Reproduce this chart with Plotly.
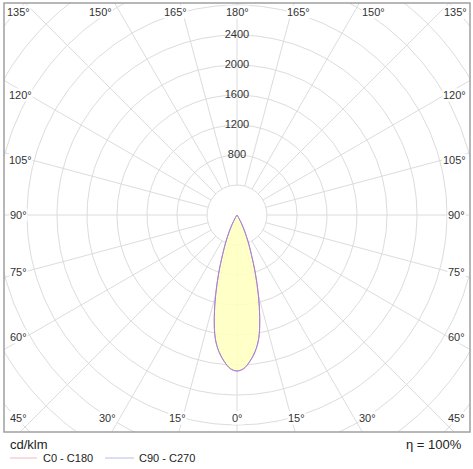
import numpy as np
import plotly.graph_objects as go

# luminous intensity distribution, cd/klm (gamma angle from nadir)
gamma = [0, 2.5, 5, 7.5, 10, 12.5, 15, 17.5, 20, 22.5, 25, 27.5, 30, 32.5, 35, 40, 45, 90]
c0_c180 = [2080, 2050, 1960, 1840, 1670, 1400, 1100, 810, 560, 390, 250, 140, 60, 25, 10, 0, 0, 0]
c90_c270 = [2080, 2050, 1960, 1840, 1670, 1400, 1100, 810, 560, 390, 250, 140, 60, 25, 10, 0, 0, 0]

ring_values = [400, 800, 1200, 1600, 2000, 2400, 2800, 3200, 3600, 4000, 4400]
ring_labels = [800, 1200, 1600, 2000, 2400]
spoke_angles = list(range(0, 360, 15))

W, H = 473, 469
PX = 0.075  # px per cd/klm
cx, cy = 237, 215
FONT = "Arial, Liberation Sans, sans-serif"


def xy(r, g):
    g = np.radians(g)
    return np.asarray(r) * np.sin(g), -np.asarray(r) * np.cos(g)


fig = go.Figure()
grid = dict(color="#dcdcdc", width=1)
t = np.linspace(0, 360, 361)
for rv in ring_values:
    x, y = xy(rv, t)
    fig.add_trace(go.Scatter(x=x, y=y, mode="lines", line=grid, hoverinfo="skip", showlegend=False))
for a in spoke_angles:
    x, y = xy([ring_values[0], ring_values[-1]], [a, a])
    fig.add_trace(go.Scatter(x=x, y=y, mode="lines", line=grid, hoverinfo="skip", showlegend=False))


def full(vals):
    g = [-v for v in gamma[::-1]] + gamma[1:]
    r = vals[::-1] + vals[1:]
    return xy(r, g)

x, y = full(c0_c180)
fig.add_trace(go.Scatter(x=x, y=y, mode="lines", line=dict(color="#e89ab0", width=1, shape="spline"),
                         fill="toself", fillcolor="rgba(255,255,190,0.85)", showlegend=False))
x, y = full(c90_c270)
fig.add_trace(go.Scatter(x=x, y=y, mode="lines", line=dict(color="#9a80e0", width=1, shape="spline"),
                         showlegend=False))

fig.add_trace(go.Scatter(x=[0] * len(ring_labels), y=ring_labels, mode="text",
                         text=[str(v) for v in ring_labels], textfont=dict(family=FONT, size=11, color="#333"),
                         hoverinfo="skip", showlegend=False))


def label(txt, px_, py_, size=11, xanchor="center", color="#333"):
    return dict(x=px_ / W, y=1 - py_ / H, xref="paper", yref="paper", text=txt, showarrow=False,
                xanchor=xanchor, yanchor="middle", bgcolor="white", borderpad=0,
                font=dict(family=FONT, size=size, color=color))


angle_labels = [("135°", 18, 12), ("150°", 100, 12), ("165°", 175, 12), ("180°", 237, 12),
                ("165°", 298, 12), ("150°", 373, 12), ("135°", 455, 12),
                ("120°", 20, 95), ("105°", 20, 160), ("90°", 18, 215), ("75°", 18, 272), ("60°", 18, 337),
                ("120°", 454, 95), ("105°", 454, 160), ("90°", 456, 215), ("75°", 456, 272), ("60°", 456, 337),
                ("45°", 18, 418), ("30°", 107, 418), ("15°", 177, 418), ("0°", 237, 418),
                ("15°", 296, 418), ("30°", 367, 418), ("45°", 456, 418)]
ann = [label(*a) for a in angle_labels]
ann += [
    label("cd/klm", 9, 444, 13, "left", "#222"),
    label("η = 100%", 463, 444, 13, "right", "#222"),
    label("C0 - C180", 42, 458, 11, "left", "#222"),
    label("C90 - C270", 138, 458, 11, "left", "#222"),
]
shapes = [
    dict(type="rect", xref="paper", yref="paper", x0=4 / W, x1=470 / W, y0=1 - 432 / H, y1=1 - 3 / H,
         line=dict(color="#a0a0a0", width=1.5)),
    dict(type="line", xref="paper", yref="paper", x0=10 / W, x1=37 / W, y0=1 - 458 / H, y1=1 - 458 / H,
         line=dict(color="#f0b8c4", width=1)),
    dict(type="line", xref="paper", yref="paper", x0=105 / W, x1=134 / W, y0=1 - 458 / H, y1=1 - 458 / H,
         line=dict(color="#b8bcec", width=1)),
]

fig.update_layout(
    width=W, height=H, margin=dict(l=0, r=0, t=0, b=0),
    plot_bgcolor="white", paper_bgcolor="white",
    xaxis=dict(domain=[4 / W, 470 / W], range=[(4 - cx) / PX, (470 - cx) / PX], visible=False, fixedrange=True),
    yaxis=dict(domain=[1 - 432 / H, 1 - 3 / H], range=[-(432 - cy) / PX, (cy - 3) / PX], visible=False, fixedrange=True),
    annotations=ann, shapes=shapes,
)
# drop the default page margin so the figure sits at the window's top-left corner
fig.write_html("out.html", config={"displayModeBar": False},
               post_script="document.body.style.margin='0';document.body.style.overflow='hidden';")
